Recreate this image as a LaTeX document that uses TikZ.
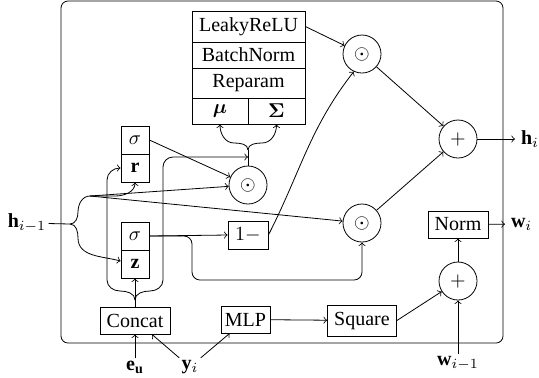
\documentclass[tikz,border=0pt]{standalone}
\usepackage{amsmath,bm}
\usepackage{fontspec}
\setmainfont{Liberation Serif}
\begin{document}
\begin{tikzpicture}[x=0.5pt,y=-0.5pt,>=to,
  box/.style={draw, inner sep=0pt},
  op/.style={draw, circle, minimum size=19pt, inner sep=0pt},
  lbl/.style={inner sep=1pt},
  outlbl/.style={inner sep=2.8pt, anchor=west}]
\useasboundingbox (0,0) rectangle (539,377);
\draw[rounded corners=3.5pt] (61,1) rectangle (503,343);
% stack
\node[box, minimum width=56.5pt, minimum height=15.5pt] (leaky) at (248.5,26.5) {LeakyReLU};
\node[box, minimum width=56.5pt, minimum height=13pt] (bn) at (248.5,55) {BatchNorm};
\node[box, minimum width=56.5pt, minimum height=15pt] (rep) at (248.5,83) {Reparam};
\node[box, minimum width=28pt, minimum height=13pt] (mu) at (220,111) {$\bm{\mu}$};
\node[box, minimum width=28.5pt, minimum height=13pt] (Sig) at (276.5,111) {$\bm{\Sigma}$};
% gates
\node[box, minimum width=14pt, minimum height=14pt] (sr) at (135,140) {$\sigma$};
\node[box, minimum width=14pt, minimum height=14pt] (r) at (135,168) {$\mathbf{r}$};
\node[box, minimum width=14pt, minimum height=14pt] (sz) at (135,236) {$\sigma$};
\node[box, minimum width=14pt, minimum height=14pt] (z) at (135,264) {$\mathbf{z}$};
\node[box, minimum width=20pt, minimum height=14pt] (om) at (248,235) {$1-$};
\node[box, minimum width=30pt, minimum height=13.5pt] (norm) at (458,224.5) {Norm};
\node[box, minimum width=34.5pt, minimum height=15.5pt] (sq) at (362,320.5) {Square};
\node[box, minimum width=24.5pt, minimum height=13.5pt] (mlp) at (245.5,319.5) {MLP};
\node[box, minimum width=35pt, minimum height=13.5pt] (concat) at (135,320.5) {Concat};
% operators
\node[op] (odot1) at (362,54) {$\odot$};
\node[op] (plus1) at (458,139) {$+$};
\node[op] (odot2) at (248,185) {$\odot$};
\node[op] (odot3) at (362,223) {$\odot$};
\node[op] (plus2) at (458,281) {$+$};
% labels
\node[outlbl] (hi) at (515,139) {$\mathbf{h}_i$};
\node[outlbl] (wi) at (505,224) {$\mathbf{w}_i$};
\node[lbl] (him1) at (27,223) {$\mathbf{h}_{i-1}$};
\node[lbl] (wim1) at (458,363) {$\mathbf{w}_{i-1}$};
\node[lbl] (eu) at (135,367) {$\mathbf{e}_\mathbf{u}$};
\node[lbl] (yi) at (190,367) {$\mathbf{y}_i$};
% h_{i-1} branches
\coordinate (hj) at (70,224);
\coordinate (hb) at (90,196);
\draw (him1) -- (hj);
\draw (hj) to[out=0,in=-90] (78,212) to[out=90,in=180] (hb);
\draw[->] (hb) -- (odot2);
\draw[->] (hb) -- (odot3);
\draw[->] (hb) -- (115,196) to[out=0,in=-90] (r.south);
\draw[->] (hj) to[out=0,in=90] (78,238) to[out=-90,in=165] ([yshift=1.5pt]z.west);
% concat brace
\coordinate (cs) at (135,300);
\coordinate (mj) at (248,157);
\draw[->] (concat.north) -- (z.south);
\draw[->] (cs) to[out=90,in=0] (120,291) to[out=180,in=-90] (107,280) -- (107,180) to[out=90,in=180] (r.west);
\draw[->] (cs) to[out=90,in=180] (150,291) to[out=0,in=-90] (163,280) -- (163,167) to[out=90,in=180] (173,157) -- (mj);
% mu sigma brace
\coordinate (ms) at (248,150);
\draw (odot2.north) -- (ms);
\draw[->] (ms) to[out=90,in=0] (234,143) to[out=180,in=-90] (mu.south);
\draw[->] (ms) to[out=90,in=180] (262,143) to[out=0,in=-90] (Sig.south);
% others
\draw[->] (sr.east) -- (odot2);
\draw[->] (sz.east) -- (om.west);
\draw[->, rounded corners=4pt] (sz.east) -- (192,236) -- (192,280) -- (362,280) -- (odot3.south);
\draw[->] (om.east) to[out=63,in=-128] (odot1.-115);
\draw[->] (leaky.east) -- (odot1);
\draw[->] (odot1) -- (plus1);
\draw[->] (odot3) -- (plus1);
\draw[->] (plus1) -- (hi);
\draw[->] (mlp) -- (sq);
\draw[->] (sq.east) -- (plus2);
\draw[->] (wim1) -- (plus2);
\draw[->] (plus2) -- (norm);
\draw[->] (norm) -- (wi);
\draw[->] (eu) -- (concat);
\draw[->] (yi.north west) -- ([xshift=8.5pt]concat.south);
\draw[->] (yi.north east) -- ([xshift=4.5pt]mlp.south west);
\end{tikzpicture}
\end{document}
